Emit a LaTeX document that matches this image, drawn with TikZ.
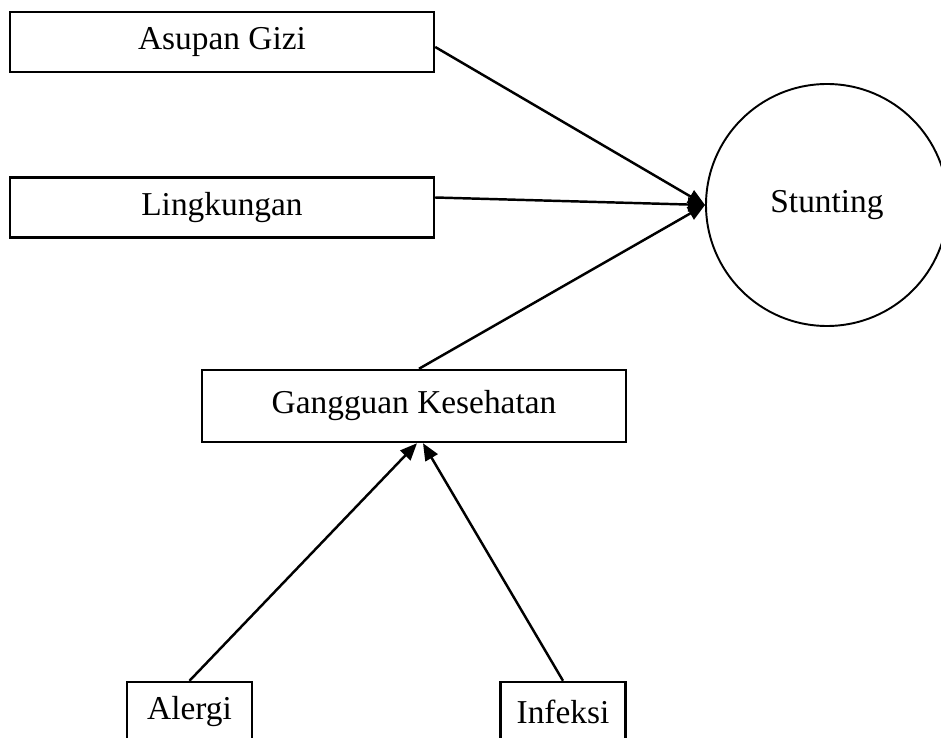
\documentclass[tikz,border=0pt]{standalone}
\usepackage{fontspec}
\setmainfont{Liberation Serif}
\usetikzlibrary{arrows.meta,positioning,shapes.geometric}

\begin{document}
\begin{tikzpicture}[every node/.style={font=\fontsize{19}{23}\selectfont},
    faktor/.style={draw,line width=1.4pt,minimum width=8.48cm,minimum height=1.2cm},
    kecil/.style={draw,line width=1.4pt,minimum width=2.5cm,minimum height=1.2cm},
    panah/.style={line width=1.4pt,-{Triangle[length=0.34cm,width=0.28cm]}}]
  \useasboundingbox (0,0) rectangle (18.82,14.74);

  %% Faktor langsung
  \node[faktor] (asupan) at (4.44,13.9) {Asupan Gizi};
  \node[faktor] (lingkungan) at (4.44,10.59) {Lingkungan};
  \node[faktor,minimum height=1.44cm] (gangguan) at (8.28,6.62) {Gangguan Kesehatan};

  %% Hasil
  \node[draw,circle,line width=1.1pt,minimum size=4.84cm,inner sep=0pt]
        (stunting) at (16.54,10.64) {Stunting};

  %% Penyebab gangguan
  \node[kecil] (alergi) at (3.79,0.5) {Alergi};
  \node[kecil] (infeksi) at (11.26,0.5) {Infeksi};

  %% Panah
  \draw[panah] ([yshift=-0.1cm]asupan.east) -- (stunting.west);
  \draw[panah] ([yshift=0.2cm]lingkungan.east) -- (stunting.west);
  \draw[panah] ([xshift=0.1cm]gangguan.north) -- (stunting.west);
  \draw[panah] (alergi.north) -- ([xshift=0.06cm]gangguan.south);
  \draw[panah] (infeksi.north) -- ([xshift=0.18cm]gangguan.south);
\end{tikzpicture}
\end{document}
